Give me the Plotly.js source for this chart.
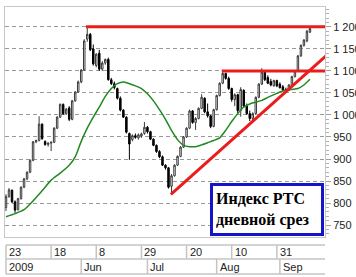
<!DOCTYPE html>
<html>
<head>
<meta charset="utf-8">
<script src="https://cdn.plot.ly/plotly-3.0.1.min.js"></script>
<style>
html,body{margin:0;padding:0;background:#fff;}
#chart{width:356px;height:277px;}
</style>
</head>
<body>
<div id="chart"></div>
<script>
// ---- data (trading-day index 0 = 23 Apr 2009) ----
const OPEN  = [790,815,829,803,785,810,836,855,870,897,939,942,979,940,933,936,938,970,995,1024,1003,1016,990,1032,1052,1075,1102,1172,1183,1150,1112,1140,1104,1118,1126,1080,1071,1060,1038,1011,995,958,944,953,948,952,958,972,962,945,931,917,905,886,880,838,862,886,906,927,950,970,1009,983,992,1015,1038,1007,998,974,1012,1044,1072,1094,1083,1060,1035,1046,1010,1056,1020,1003,992,1003,1040,1070,1097,1085,1076,1066,1078,1070,1064,1058,1056,1068,1087,1100,1134,1158,1168,1188];
const HIGH  = [820,834,831,806,812,838,857,872,899,941,944,997,981,942,938,940,972,997,1026,1026,1016,1020,1034,1054,1078,1104,1172,1201,1186,1160,1140,1148,1122,1128,1130,1084,1076,1062,1042,1013,997,960,956,958,958,960,984,975,964,947,933,920,908,888,882,866,888,908,929,952,972,1012,1011,995,1017,1047,1040,1026,1000,1014,1046,1074,1100,1096,1087,1062,1049,1048,1063,1058,1026,1010,1006,1042,1072,1106,1100,1090,1082,1080,1080,1074,1068,1062,1070,1089,1102,1136,1160,1172,1193,1199];
const LOW   = [782,812,800,778,783,808,834,852,868,895,936,940,944,930,928,918,936,968,993,1000,1000,986,988,1030,1050,1072,1100,1166,1145,1112,1108,1100,1100,1114,1078,1068,1058,1035,1008,993,958,898,940,946,944,948,955,958,943,929,914,902,884,876,833,821,860,884,904,925,948,968,980,966,990,1013,1004,994,970,972,1010,1042,1070,1080,1057,1030,1020,1003,996,1017,1000,986,984,1000,1038,1068,1077,1070,1065,1064,1063,1060,1054,1050,1054,1066,1085,1098,1132,1155,1165,1186];
const CLOSE = [815,830,803,784,810,836,855,870,897,939,942,979,946,933,936,938,970,995,1024,1003,1013,990,1032,1052,1075,1102,1168,1183,1148,1116,1138,1104,1118,1126,1080,1071,1062,1038,1011,995,961,934,953,949,955,957,972,962,945,931,917,905,886,880,836,862,886,906,927,950,970,1009,983,992,1015,1040,1007,998,974,1012,1044,1072,1094,1083,1060,1035,1046,1010,1058,1020,1003,992,1003,1040,1070,1097,1080,1072,1068,1078,1066,1062,1057,1056,1068,1087,1100,1134,1158,1170,1190,1196];

// moving average (green)
const MA_X = [0,3,6,9,12,15,18,21,23,25,27,29,31,33,35,37,39,41,43,45,47,49,51,53,55,57,59,61,63,65,67,69,71,73,75,77,79,81,83,85,87,89,91,93,95,97,99,101];
const MA_Y = [769,776,785,805,828,852,868,886,905,940,970,995,1018,1042,1060,1071,1075,1071,1066,1060,1048,1032,1012,990,965,944,931,928,928,932,937,942,948,965,985,1003,1018,1025,1029,1033,1040,1046,1052,1056,1058,1060,1068,1081];

// red levels and trend line
const RES1_X = [26.6, 107]; const RES1_Y = [1200, 1200];
const RES2_X = [71.7, 107]; const RES2_Y = [1100, 1100];
const TREND_X = [54.8, 107]; const TREND_Y = [820, 1138];

// axis labels
const TICK_IDX  = [0,15,30,45,60,75,90];
const TICK_TEXT = ['23','18','8','29','20','10','31'];
const MONTH_IDX  = [0,25,47,70,91];
const MONTH_TEXT = ['2009','Jun','Jul','Aug','Sep'];

const X = OPEN.map((_, i) => i);

const traces = [
  {
    type: 'candlestick', x: X, open: OPEN, high: HIGH, low: LOW, close: CLOSE,
    increasing: {line: {color: '#3a3a3a', width: 1}, fillcolor: '#ffffff'},
    decreasing: {line: {color: '#000000', width: 1}, fillcolor: '#000000'},
    whiskerwidth: 0, hoverinfo: 'skip', showlegend: false
  },
  {type: 'scatter', mode: 'lines', x: MA_X, y: MA_Y,
   line: {color: '#1f8a1f', width: 1.5, shape: 'spline', smoothing: 0.6}, hoverinfo: 'skip', showlegend: false},
  {type: 'scatter', mode: 'lines', x: RES1_X, y: RES1_Y, line: {color: '#ea1c1c', width: 3}, hoverinfo: 'skip', showlegend: false},
  {type: 'scatter', mode: 'lines', x: RES2_X, y: RES2_Y, line: {color: '#ea1c1c', width: 3}, hoverinfo: 'skip', showlegend: false},
  {type: 'scatter', mode: 'lines', x: TREND_X, y: TREND_Y, line: {color: '#ea1c1c', width: 3}, hoverinfo: 'skip', showlegend: false}
];

// pixel -> paper helpers for the date strip under the plot
const PT = 7, PB = 237, PH = PB - PT;
const py = v => (PB - v) / PH;

const shapes = [];
[245, 259, 274].forEach(v => shapes.push({type: 'line', xref: 'paper', yref: 'paper', x0: 0.003, x1: 1, y0: py(v), y1: py(v), line: {color: '#c4c4c4', width: 1.5}}));
TICK_IDX.forEach(t => shapes.push({type: 'line', xref: 'x', yref: 'paper', x0: t, x1: t, y0: py(245), y1: py(259), line: {color: '#c4c4c4', width: 1.5}}));
MONTH_IDX.forEach(t => shapes.push({type: 'line', xref: 'x', yref: 'paper', x0: t, x1: t, y0: py(259), y1: py(274), line: {color: '#c4c4c4', width: 1.5}}));

const lblFont = {family: 'Liberation Sans, Arial, sans-serif', size: 11, color: '#222'};
const annotations = [];
TICK_IDX.forEach((t, k) => annotations.push({xref: 'x', yref: 'paper', x: t, y: py(252), text: TICK_TEXT[k], showarrow: false, xanchor: 'left', yanchor: 'middle', xshift: 1, font: lblFont}));
MONTH_IDX.forEach((t, k) => annotations.push({xref: 'x', yref: 'paper', x: t, y: py(266.5), text: MONTH_TEXT[k], showarrow: false, xanchor: 'left', yanchor: 'middle', xshift: 1, font: lblFont}));
annotations.push({
  xref: 'paper', yref: 'paper', x: (267 - 5) / 320, y: py(209.5), xanchor: 'center', yanchor: 'middle',
  text: '<b>Индекс РТС<br>дневной срез</b>', showarrow: false, align: 'left',
  font: {family: 'Liberation Serif, Times New Roman, serif', size: 16, color: '#000'},
  bgcolor: '#ffffff', bordercolor: '#1414c8', borderwidth: 3, borderpad: 3, width: 102, height: 41
});

const layout = {
  width: 356, height: 277,
  margin: {l: 5, r: 31, t: 7, b: 40, pad: 0},
  paper_bgcolor: '#ffffff', plot_bgcolor: '#ffffff',
  separators: '. ',
  showlegend: false,
  xaxis: {
    type: 'linear', range: [-0.33, 106], showgrid: false, zeroline: false,
    showticklabels: false, ticks: '', showline: true, mirror: true,
    linecolor: '#c8c8c8', linewidth: 1, rangeslider: {visible: false}, fixedrange: true
  },
  yaxis: {
    side: 'right', range: [723, 1245], tick0: 0, dtick: 50,
    showgrid: true, gridcolor: '#9a9a9a', gridwidth: 1, griddash: '4px,3px',
    zeroline: false, showline: true, mirror: true, linecolor: '#c8c8c8', linewidth: 1,
    ticks: 'outside', ticklen: 5, tickcolor: '#a0a0a0', separatethousands: true,
    minor: {ticks: 'outside', ticklen: 3, dtick: 10, tick0: 0, tickcolor: '#b0b0b0', showgrid: false},
    tickfont: lblFont, fixedrange: true
  },
  shapes: shapes,
  annotations: annotations
};

Plotly.newPlot('chart', traces, layout, {staticPlot: true, displayModeBar: false});
</script>
</body>
</html>
